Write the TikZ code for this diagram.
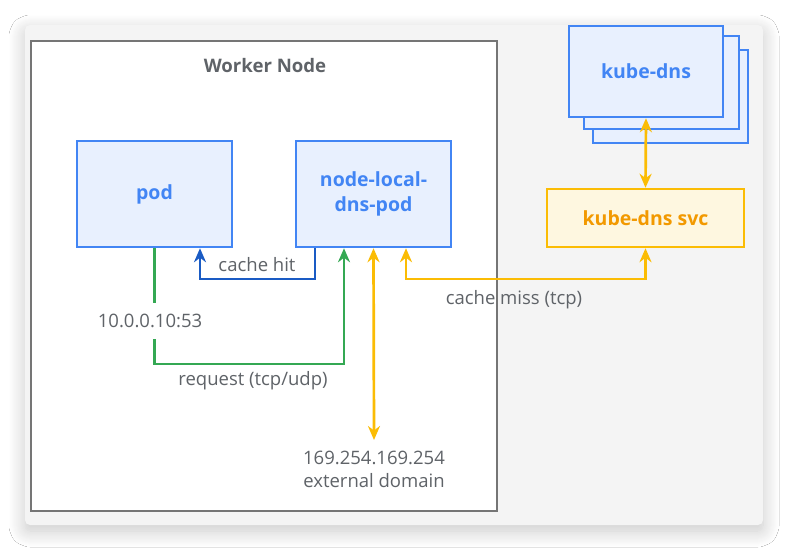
\documentclass[tikz,border=0pt]{standalone}
\usepackage{fontspec}
\setmainfont{Open Sans}
\usetikzlibrary{arrows.meta,shadows.blur,calc}
\definecolor{gblue}{HTML}{4285F4}
\definecolor{gbluefill}{HTML}{E8F0FE}
\definecolor{dblue}{HTML}{1A5BC4}
\definecolor{ggreen}{HTML}{34A853}
\definecolor{gyellow}{HTML}{FBBC04}
\definecolor{yfill}{HTML}{FEF7E0}
\definecolor{svctext}{HTML}{F29900}
\definecolor{gtext}{HTML}{5F6368}
\definecolor{wborder}{HTML}{757575}
\definecolor{panel}{HTML}{F4F4F4}
\tikzset{
  bluebox/.style={draw=gblue,fill=gbluefill,line width=2.5pt,text=gblue,font=\fontsize{19.5}{25}\selectfont\bfseries,align=center,inner sep=0pt},
  lbl/.style={text=gtext,font=\fontsize{18.5}{23}\selectfont,align=center,inner sep=0pt},
  tip/.tip={Stealth[length=14pt,width=12pt,inset=4.5pt]},
  conn/.style={line width=2.7pt,arrows={-tip}},
  dconn/.style={line width=2.7pt,arrows={tip-tip}},
}
\begin{document}
\begin{tikzpicture}[x=1pt,y=-1pt]
\useasboundingbox (0,0) rectangle (789,551);
\fill[white] (0,0) rectangle (789,551);
% panel
\node[draw=none,fill=panel,rounded corners=5pt,minimum width=738pt,minimum height=500pt,inner sep=0pt,
  blur shadow={shadow xshift=0pt,shadow yshift=-6pt,shadow blur radius=16pt,shadow blur steps=16,shadow opacity=22}] (panel) at (394,275) {};
% worker node
\node[draw=wborder,fill=white,line width=1.7pt,minimum width=466pt,minimum height=470pt,inner sep=0pt] (worker) at (264,276) {};
\node[text=gtext,font=\fontsize{18.6}{22}\selectfont\bfseries,inner sep=0pt] (wtitle) at (265,66) {Worker Node};
% boxes
\node[bluebox,minimum width=155pt,minimum height=106pt] (pod) at (154.5,194) {pod};
\node[bluebox,minimum width=155pt,minimum height=106pt] (nl) at (373.5,194) {node-local-\\dns-pod};
\node[bluebox,minimum width=155pt,minimum height=93pt] (kd3) at (670.5,96.5) {};
\node[bluebox,minimum width=155pt,minimum height=93pt] (kd2) at (661.5,82.5) {};
\node[bluebox,minimum width=154pt,minimum height=91pt] (kd) at (646,71.5) {kube-dns};
\node[draw=gyellow,fill=yfill,line width=2.5pt,text=svctext,font=\fontsize{19.5}{25}\selectfont\bfseries,inner sep=0pt,minimum width=197pt,minimum height=58pt] (svc) at (645.5,218) {kube-dns svc};
% labels
\node[lbl,inner ysep=11pt] (ip) at (150,321) {10.0.0.10:53};
\node[lbl] (req) at (253,381) {request (tcp/udp)};
\node[lbl] (hit) at (257,265) {cache hit};
\node[lbl] (miss) at (514,300) {cache miss (tcp)};
\node[lbl] (ext) at (374,469) {169.254.169.254\\external domain};
% coordinates
\coordinate (g1) at ([xshift=-29.5pt]nl.south);
\coordinate (b1) at ([xshift=-58.5pt]nl.south);
\coordinate (b2) at ([xshift=45.5pt]pod.south);
\coordinate (m1) at ([xshift=32.5pt]nl.south);
\coordinate (e1) at (374,440);
% connectors
\draw[ggreen,line width=2.7pt] (pod.south) -- (pod.south |- ip.north);
\draw[ggreen,conn] (pod.south |- ip.south) -- (pod.south |- 0,364) -| (g1);
\draw[dblue,conn] (b1) -- (b1 |- 0,279) -| (b2);
\draw[gyellow,dconn] (m1) -- (m1 |- 0,279) -| (svc.south);
\draw[gyellow,dconn] (kd.south) -- (svc.north);
\draw[gyellow,dconn] (nl.south) -- (e1);
\end{tikzpicture}
\end{document}
